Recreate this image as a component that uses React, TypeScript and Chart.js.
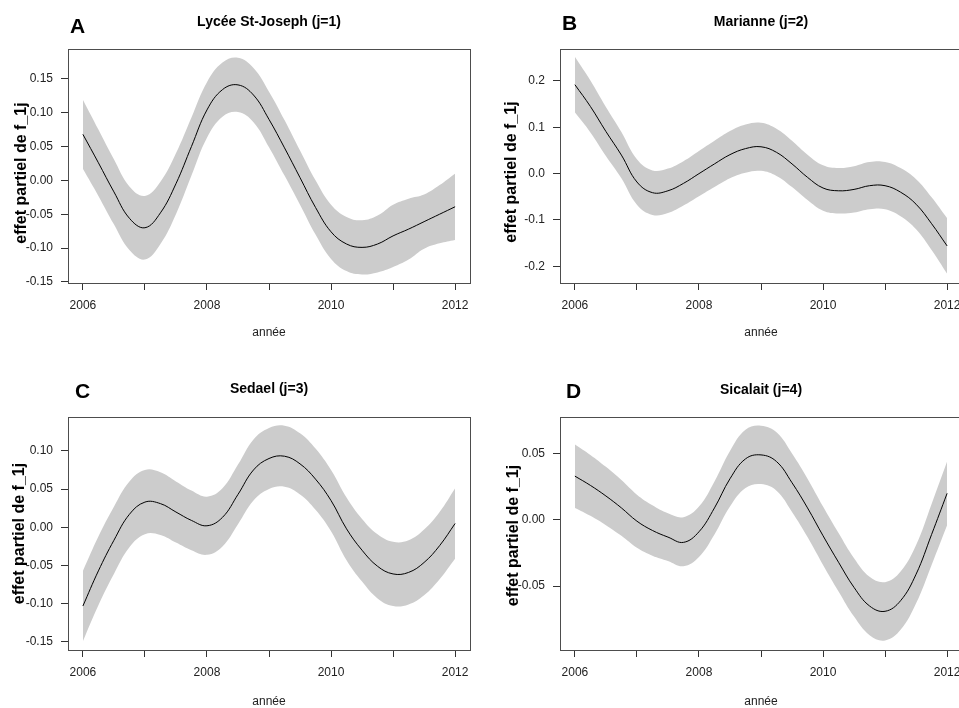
import React, { useEffect, useRef } from "react";
import { Chart, registerables } from "chart.js";

Chart.register(...registerables);

// ---------- data ----------
const years = [
  2006, 2006.25, 2006.5, 2006.75, 2007, 2007.25, 2007.5, 2007.75, 2008, 2008.25, 2008.5, 2008.75,
  2009, 2009.25, 2009.5, 2009.75, 2010, 2010.25, 2010.5, 2010.75, 2011, 2011.25, 2011.5, 2011.75, 2012,
];
const xTickYears = [2006, 2007, 2008, 2009, 2010, 2011, 2012];
const xLabelYears = [2006, 2008, 2010, 2012];

// A : Lycée St-Joseph (j=1)
const lineA = [0.068, 0.026, -0.017, -0.056, -0.070, -0.048, -0.005, 0.050, 0.104, 0.134, 0.141, 0.126, 0.090, 0.048, 0.004, -0.040, -0.076, -0.094, -0.099, -0.094, -0.082, -0.072, -0.061, -0.050, -0.039];
const upperA = [0.119, 0.075, 0.031, -0.009, -0.023, -0.002, 0.040, 0.093, 0.145, 0.174, 0.181, 0.166, 0.131, 0.089, 0.044, 0.000, -0.036, -0.054, -0.059, -0.052, -0.036, -0.027, -0.021, -0.007, 0.010];
const lowerA = [0.017, -0.023, -0.065, -0.103, -0.117, -0.094, -0.050, 0.007, 0.063, 0.094, 0.101, 0.086, 0.049, 0.007, -0.036, -0.080, -0.116, -0.134, -0.139, -0.136, -0.128, -0.117, -0.101, -0.093, -0.088];
const yTicksA = [-0.15, -0.1, -0.05, 0, 0.05, 0.1, 0.15];

// B : Marianne (j=2)
const lineB = [0.192, 0.145, 0.091, 0.040, -0.018, -0.041, -0.037, -0.021, 0.000, 0.021, 0.041, 0.054, 0.058, 0.046, 0.021, -0.008, -0.031, -0.037, -0.034, -0.026, -0.026, -0.040, -0.066, -0.108, -0.156];
const upperB = [0.252, 0.201, 0.144, 0.090, 0.031, 0.007, 0.011, 0.027, 0.049, 0.071, 0.092, 0.106, 0.110, 0.097, 0.071, 0.041, 0.018, 0.012, 0.016, 0.025, 0.025, 0.012, -0.012, -0.051, -0.096];
const lowerB = [0.132, 0.089, 0.038, -0.010, -0.067, -0.089, -0.085, -0.069, -0.049, -0.029, -0.010, 0.002, 0.006, -0.005, -0.029, -0.057, -0.080, -0.086, -0.084, -0.077, -0.077, -0.092, -0.120, -0.165, -0.216];
const yTicksB = [-0.2, -0.1, 0, 0.1, 0.2];

// C : Sedael (j=3)
const lineC = [-0.103, -0.057, -0.017, 0.017, 0.033, 0.031, 0.020, 0.009, 0.002, 0.013, 0.043, 0.075, 0.090, 0.093, 0.083, 0.063, 0.035, -0.002, -0.030, -0.051, -0.061, -0.059, -0.046, -0.024, 0.005];
const upperC = [-0.057, -0.012, 0.027, 0.060, 0.075, 0.072, 0.060, 0.048, 0.040, 0.051, 0.082, 0.115, 0.130, 0.133, 0.123, 0.103, 0.075, 0.039, 0.011, -0.009, -0.019, -0.017, -0.003, 0.020, 0.051];
const lowerC = [-0.149, -0.102, -0.061, -0.026, -0.009, -0.010, -0.020, -0.030, -0.036, -0.025, 0.004, 0.035, 0.050, 0.053, 0.043, 0.023, -0.005, -0.043, -0.071, -0.093, -0.103, -0.101, -0.089, -0.068, -0.041];
const yTicksC = [-0.15, -0.1, -0.05, 0, 0.05, 0.1];

// D : Sicalait (j=4)
const lineD = [0.033, 0.026, 0.018, 0.009, -0.001, -0.008, -0.013, -0.017, -0.009, 0.009, 0.031, 0.046, 0.049, 0.044, 0.028, 0.009, -0.012, -0.032, -0.051, -0.065, -0.069, -0.061, -0.041, -0.011, 0.020];
const upperD = [0.057, 0.049, 0.040, 0.030, 0.019, 0.011, 0.005, 0.002, 0.010, 0.029, 0.052, 0.068, 0.071, 0.066, 0.050, 0.031, 0.010, -0.010, -0.029, -0.043, -0.047, -0.039, -0.019, 0.012, 0.044];
const lowerD = [0.009, 0.003, -0.004, -0.012, -0.021, -0.027, -0.031, -0.035, -0.028, -0.011, 0.010, 0.024, 0.027, 0.022, 0.006, -0.013, -0.034, -0.054, -0.073, -0.087, -0.091, -0.083, -0.063, -0.034, -0.004];
const yTicksD = [-0.05, 0, 0.05];

const xTitle = "année";
const yTitle = "effet partiel de f_1j";

// ---------- layout ----------
const FONT = '"Liberation Sans", Arial, Helvetica, sans-serif';

type Panel = {
  letter: string;
  title: string;
  line: number[];
  upper: number[];
  lower: number[];
  yTicks: number[];
  decimals: number;
  yMin: number;
  yMax: number;
  left: number;
  top: number;
  width: number;
  height: number;
  area: { l: number; t: number; r: number; b: number };
  letterX: number;
  letterY: number;
  titleY: number;
  yTitleX: number;
  yTitleDy: number;
  xTitleY: number;
};

const panels: Panel[] = [
  {
    letter: "A", title: "Lycée St-Joseph (j=1)", line: lineA, upper: upperA, lower: lowerA,
    yTicks: yTicksA, decimals: 2, yMin: -0.1516, yMax: 0.194,
    left: 0, top: 0, width: 480, height: 354, area: { l: 68, t: 49, r: 470, b: 283 },
    letterX: 70, letterY: 33, titleY: 26, yTitleX: 22, yTitleDy: 7, xTitleY: 333,
  },
  {
    letter: "B", title: "Marianne (j=2)", line: lineB, upper: upperB, lower: lowerB,
    yTicks: yTicksB, decimals: 1, yMin: -0.236, yMax: 0.269,
    left: 480, top: 0, width: 490, height: 354, area: { l: 80, t: 49, r: 482, b: 283 },
    letterX: 82, letterY: 30, titleY: 26, yTitleX: 32, yTitleDy: 6, xTitleY: 333,
  },
  {
    letter: "C", title: "Sedael (j=3)", line: lineC, upper: upperC, lower: lowerC,
    yTicks: yTicksC, decimals: 2, yMin: -0.1605, yMax: 0.1443,
    left: 0, top: 354, width: 480, height: 354, area: { l: 68, t: 63, r: 470, b: 296 },
    letterX: 75, letterY: 44, titleY: 39, yTitleX: 20, yTitleDy: 0, xTitleY: 348,
  },
  {
    letter: "D", title: "Sicalait (j=4)", line: lineD, upper: upperD, lower: lowerD,
    yTicks: yTicksD, decimals: 2, yMin: -0.0982, yMax: 0.0776,
    left: 480, top: 354, width: 490, height: 354, area: { l: 80, t: 63, r: 482, b: 296 },
    letterX: 86, letterY: 44, titleY: 40, yTitleX: 34, yTitleDy: 2, xTitleY: 348,
  },
];

function pts(vals: number[]) {
  return years.map((x, i) => ({ x, y: vals[i] }));
}

function makeDecor(p: Panel) {
  return {
    id: "decor" + p.letter,
    afterDraw(chart: any) {
      const ctx = chart.ctx as CanvasRenderingContext2D;
      const a = chart.chartArea;
      ctx.save();
      // box
      ctx.strokeStyle = "#4d4d4d";
      ctx.lineWidth = 1;
      ctx.strokeRect(Math.round(a.left) + 0.5, Math.round(a.top) + 0.5, Math.round(a.right - a.left), Math.round(a.bottom - a.top));
      // panel letter
      ctx.fillStyle = "#000";
      ctx.font = `bold 21px ${FONT}`;
      ctx.textAlign = "left";
      ctx.textBaseline = "alphabetic";
      ctx.fillText(p.letter, p.letterX, p.letterY);
      // title
      ctx.font = `bold 14px ${FONT}`;
      ctx.textAlign = "center";
      ctx.fillText(p.title, (a.left + a.right) / 2, p.titleY);
      // x title
      ctx.font = `12px ${FONT}`;
      ctx.fillStyle = "#222";
      ctx.textBaseline = "middle";
      ctx.fillText(xTitle, (a.left + a.right) / 2, p.xTitleY);
      // y title
      ctx.translate(p.yTitleX, (a.top + a.bottom) / 2 + p.yTitleDy);
      ctx.rotate(-Math.PI / 2);
      ctx.font = `bold 16px ${FONT}`;
      ctx.fillStyle = "#000";
      ctx.textAlign = "center";
      ctx.textBaseline = "middle";
      ctx.fillText(yTitle, 0, 0);
      ctx.restore();
    },
  };
}

function buildConfig(p: Panel): any {
  const tickFont = { family: FONT, size: 12 };
  const common = { pointRadius: 0, tension: 0.4, cubicInterpolationMode: "default" };
  return {
    type: "line",
    data: {
      datasets: [
        {
          ...common,
          data: pts(p.line),
          borderColor: "#000000",
          borderWidth: 1,
          fill: false,
        },
        {
          ...common,
          data: pts(p.upper),
          borderColor: "rgba(0,0,0,0)",
          borderWidth: 0,
          backgroundColor: "#cccccc",
          fill: "+1",
        },
        {
          ...common,
          data: pts(p.lower),
          borderColor: "rgba(0,0,0,0)",
          borderWidth: 0,
          fill: false,
        },
      ],
    },
    options: {
      animation: false,
      responsive: false,
      events: [],
      layout: { padding: { top: p.area.t, right: p.width - p.area.r, left: 0, bottom: 0 } },
      plugins: { legend: { display: false }, tooltip: { enabled: false }, title: { display: false } },
      scales: {
        x: {
          type: "linear",
          min: 2005.76,
          max: 2012.24,
          afterBuildTicks: (s: any) => {
            s.ticks = xTickYears.map((v) => ({ value: v }));
          },
          afterFit: (s: any) => {
            s.height = p.height - p.area.b;
          },
          ticks: {
            autoSkip: false,
            maxRotation: 0,
            minRotation: 0,
            padding: 8,
            color: "#222",
            font: tickFont,
            callback: (v: number) => (xLabelYears.includes(v) ? String(v) : ""),
          },
          grid: { drawOnChartArea: false, drawTicks: true, tickLength: 7, color: "#333", lineWidth: 1 },
          border: { display: false },
        },
        y: {
          type: "linear",
          min: p.yMin,
          max: p.yMax,
          afterBuildTicks: (s: any) => {
            s.ticks = p.yTicks.map((v) => ({ value: v }));
          },
          afterFit: (s: any) => {
            s.width = p.area.l;
          },
          ticks: {
            autoSkip: false,
            padding: 8,
            color: "#222",
            font: tickFont,
            callback: (v: number) => Number(v).toFixed(p.decimals),
          },
          grid: { drawOnChartArea: false, drawTicks: true, tickLength: 7, color: "#333", lineWidth: 1 },
          border: { display: false },
        },
      },
    },
    plugins: [makeDecor(p)],
  };
}

function PanelChart({ p }: { p: Panel }) {
  const ref = useRef<HTMLCanvasElement | null>(null);
  useEffect(() => {
    if (!ref.current) return;
    const chart = new Chart(ref.current, buildConfig(p));
    return () => chart.destroy();
  }, [p]);
  return (
    <canvas
      ref={ref}
      width={p.width}
      height={p.height}
      style={{ position: "absolute", left: p.left, top: p.top, width: p.width, height: p.height, display: "block" }}
    />
  );
}

export default function App() {
  return (
    <div
      style={{
        position: "fixed",
        left: 0,
        top: 0,
        width: 959,
        height: 708,
        overflow: "hidden",
        background: "#ffffff",
      }}
    >
      {panels.map((p) => (
        <PanelChart key={p.letter} p={p} />
      ))}
    </div>
  );
}
